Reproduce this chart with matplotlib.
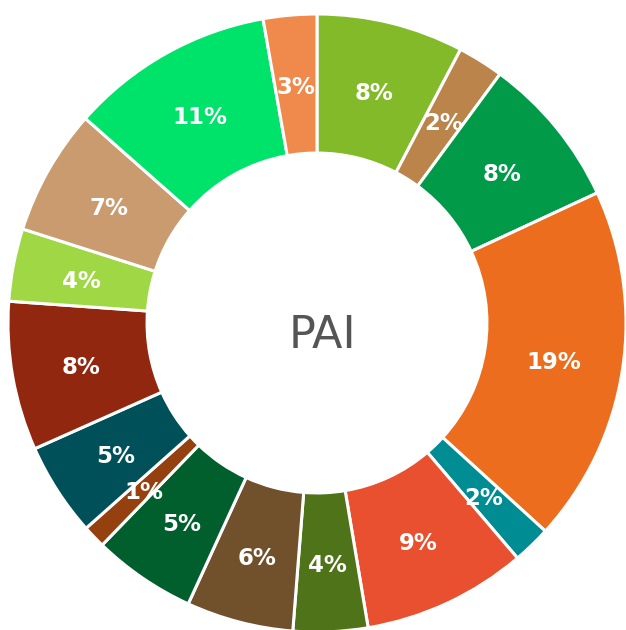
import matplotlib
matplotlib.use("Agg")
import matplotlib.pyplot as plt

labels = ["A", "B", "C", "D", "E", "F", "G", "H", "I", "J", "K", "L", "M", "N", "O", "P"]
values = [7.7, 2.4, 8.0, 18.7, 2.0, 8.6, 3.9, 5.6, 5.4, 1.2, 4.9, 7.8, 3.8, 6.6, 10.7, 2.8]
colors = ["#82BA29", "#BA844A", "#009A48", "#EC6D1E", "#008C93", "#E8502F",
          "#4E7318", "#71502C", "#005F2C", "#94400F", "#005059", "#91270F",
          "#A0D845", "#C99B6E", "#00E36B", "#F08A4C"]
center_title = "PAI"

W, H = 626, 630
fig = plt.figure(figsize=(W / 100, H / 100), dpi=100)
ax = fig.add_axes([0, 0, 1, 1])

R = 309.0
cx, cy = 317.0, 323.0
wedges, texts, autotexts = ax.pie(
    values, colors=colors, startangle=90, counterclock=False, radius=1.0,
    wedgeprops=dict(width=0.45, edgecolor="white", linewidth=2.2),
    autopct=lambda p: f"{p:.0f}%", pctdistance=0.775,
    textprops=dict(color="white", fontsize=16.5, fontweight="bold",
                   family="DejaVu Sans"))
for t in autotexts:
    x, y = t.get_position()
    t.set_position((x, y - 0.011))
ax.text(0.017, -0.04, center_title, ha="center", va="center", fontsize=32,
        color="#555555", family="DejaVu Sans")
ax.set_aspect("auto")
ax.set_xlim(-cx / R, (W - cx) / R)
ax.set_ylim(-(H - cy) / R, cy / R)
ax.axis("off")
fig.savefig("out.png", dpi=100, facecolor="white")
